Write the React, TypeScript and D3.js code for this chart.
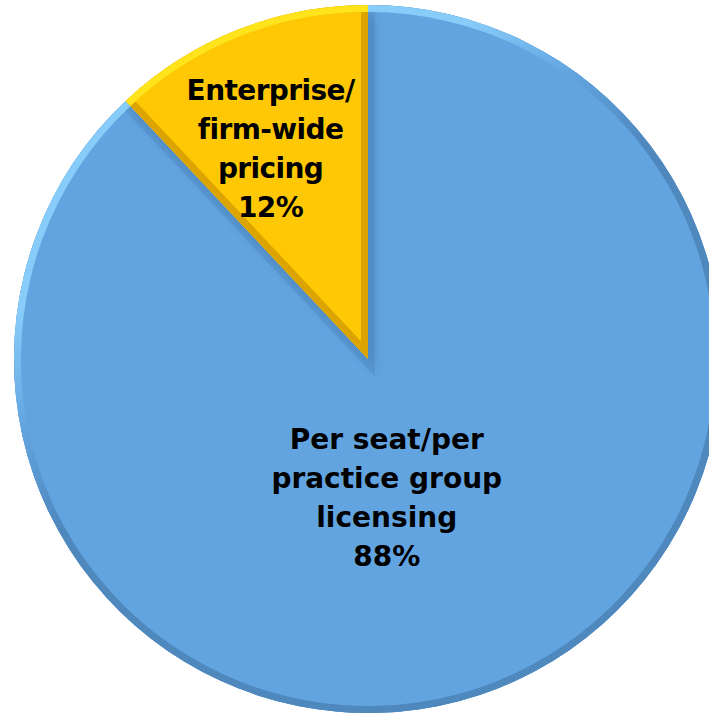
import React from "react";
import * as d3 from "d3";

const categories = ["Enterprise/\nfirm-wide\npricing", "Per seat/per\npractice group\nlicensing"];
const values = [12, 88];
const fills = ["#ffc805", "#62a4e0"];
const bevelLight = ["#ffe41c", "#88ccfa"];
const bevelDark = ["#dca400", "#4f88bd"];

const W = 709, H = 713;
const cx = 368, cy = 359, R = 354, B = 7;

export default function App() {
  const a0 = -(values[0] / 100) * 2 * Math.PI;
  const pie = d3.pie<number>().sort(null).startAngle(a0).endAngle(2 * Math.PI + a0);
  const arcs = pie(values);
  const arc = d3.arc<d3.PieArcDatum<number>>().innerRadius(0).outerRadius(R);
  const rim = d3.arc<d3.PieArcDatum<number>>().innerRadius(R - B).outerRadius(R);
  const labelOffsets = [
    { r: 0.64, dx: -14, dy: 0 },
    { r: 0.42, dx: -36, dy: 0 },
  ];
  const lineH = 39;
  return (
    <svg width={W} height={H} style={{ position: "absolute", left: 0, top: 0 }}>
      <defs>
        {arcs.map((a, i) => (
          <clipPath key={i} id={`clip${i}`}>
            <path d={arc(a)!} />
          </clipPath>
        ))}
        <linearGradient id="bev1" gradientUnits="userSpaceOnUse" x1={-R * 0.55} y1={-R * 0.85} x2={R * 0.55} y2={R * 0.85}>
          <stop offset="0.18" stopColor={bevelLight[1]} />
          <stop offset="0.32" stopColor={fills[1]} />
          <stop offset="0.46" stopColor={bevelDark[1]} />
        </linearGradient>
        <filter id="blur" x="-20%" y="-20%" width="140%" height="140%">
          <feGaussianBlur stdDeviation="4" />
        </filter>
      </defs>
      <g transform={`translate(${cx},${cy})`}>
        <path d={arc(arcs[1])!} fill={fills[1]} />
        <path d={arc(arcs[1])!} fill="none" stroke="#5b99d4" strokeWidth={2 * B} clipPath="url(#clip1)" />
        <path d={rim(arcs[1])!} fill="url(#bev1)" />
        <g clipPath="url(#clip1)">
          <path d={arc(arcs[0])!} fill="#3d6f9e" opacity={0.35} transform="translate(7,12)" filter="url(#blur)" />
        </g>
        <path d={arc(arcs[0])!} fill={fills[0]} />
        <path d={arc(arcs[0])!} fill="none" stroke={bevelDark[0]} strokeWidth={2 * B} clipPath="url(#clip0)" />
        <path d={rim(arcs[0])!} fill={bevelLight[0]} />
        {arcs.map((a, i) => {
          const mid = (a.startAngle + a.endAngle) / 2;
          const rr = R * labelOffsets[i].r;
          const x = Math.sin(mid) * rr + labelOffsets[i].dx;
          const y = -Math.cos(mid) * rr + labelOffsets[i].dy;
          const lines = [...categories[i].split("\n"), `${values[i]}%`];
          const y0 = y - ((lines.length - 1) * lineH) / 2;
          return (
            <text key={i} textAnchor="middle" fontFamily="'DejaVu Sans', sans-serif" fontWeight="bold" fontSize={28} fill="#000" letterSpacing={i === 0 ? -0.6 : 0}>
              {lines.map((l, j) => (
                <tspan key={j} x={x} y={y0 + j * lineH} dy="0.35em">{l}</tspan>
              ))}
            </text>
          );
        })}
      </g>
    </svg>
  );
}
